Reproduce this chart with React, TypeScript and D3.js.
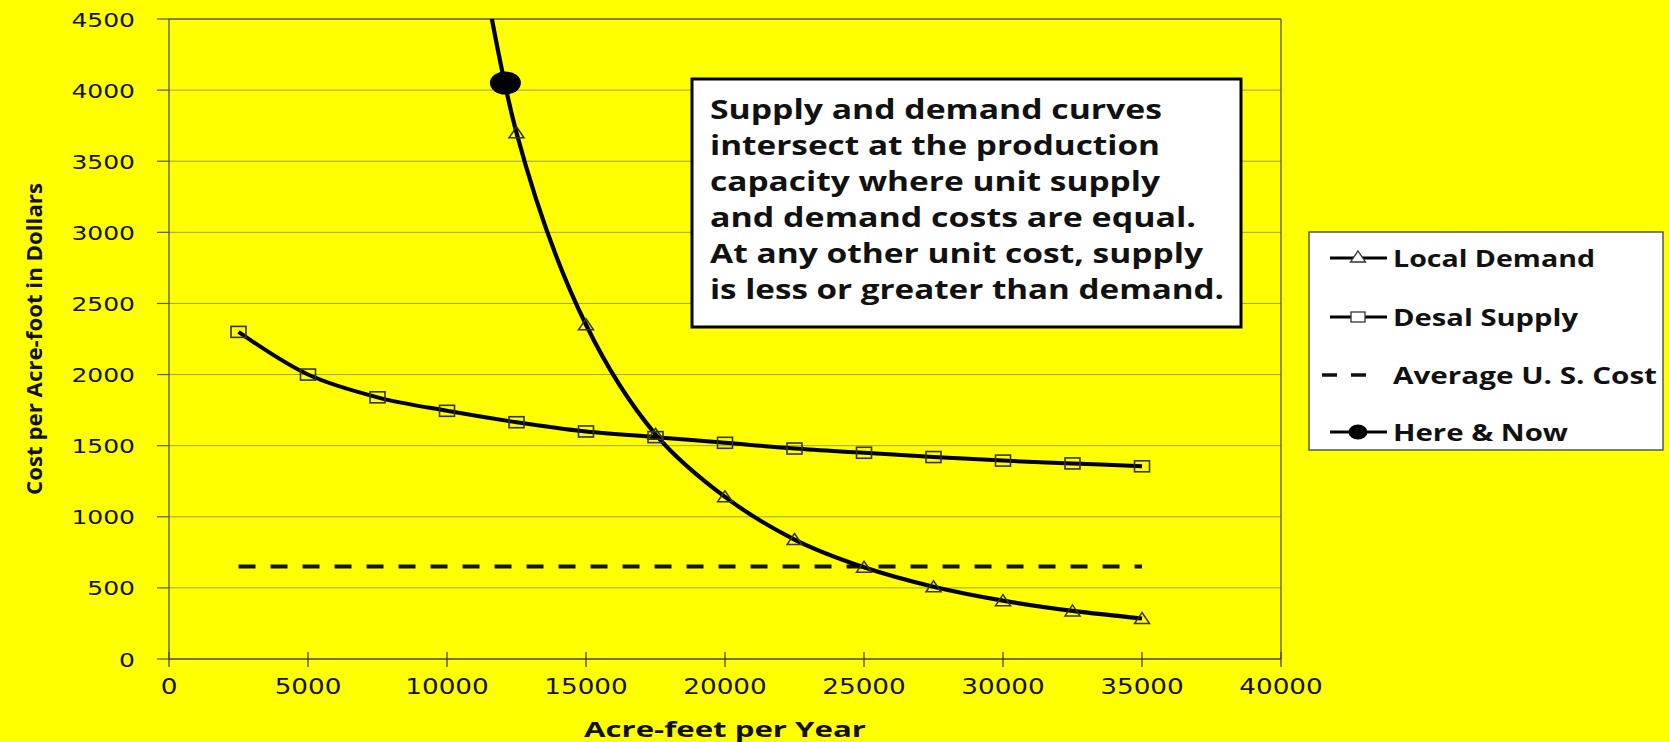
import React from 'react';
import * as d3 from 'd3';

// axis ticks
const xTicks = [0, 5000, 10000, 15000, 20000, 25000, 30000, 35000, 40000];
const yTicks = [0, 500, 1000, 1500, 2000, 2500, 3000, 3500, 4000, 4500];

// Local Demand (points above 4500 run off the top of the plot)
const demandX = [10000, 12500, 15000, 17500, 20000, 22500, 25000, 27500, 30000, 32500, 35000];
const demandY = [6400, 3700, 2350, 1580, 1140, 840, 645, 508, 410, 338, 285];

// Desal Supply
const supplyX = [2500, 5000, 7500, 10000, 12500, 15000, 17500, 20000, 22500, 25000, 27500, 30000, 32500, 35000];
const supplyY = [2300, 2000, 1840, 1745, 1665, 1600, 1560, 1520, 1480, 1450, 1420, 1395, 1375, 1355];

// Average U. S. Cost
const avgX = [2500, 35000];
const avgY = [650, 650];

// Here & Now
const hereX = [12100];
const hereY = [4050];

const legendLabels = ['Local Demand', 'Desal Supply', 'Average U. S. Cost', 'Here & Now'];
const legendWidths = [202, 185, 264, 175];

const noteLines = [
  'Supply and demand curves',
  'intersect at the production',
  'capacity where unit supply',
  'and demand costs are equal.',
  'At any other unit cost, supply',
  'is less or greater than demand.',
];
const noteWidths = [452, 450, 450, 486, 493, 514];

const W = 1669;
const H = 742;
const plot = { left: 169, right: 1281, top: 19, bottom: 659 };

const x = d3.scaleLinear().domain([0, 40000]).range([plot.left, plot.right]);
const y = d3.scaleLinear().domain([0, 4500]).range([plot.bottom, plot.top]);

const line = d3
  .line<[number, number]>()
  .x(d => x(d[0]))
  .y(d => y(d[1]))
  .curve(d3.curveCatmullRom.alpha(0.5));

const zip = (a: number[], b: number[]) => a.map((v, i) => [v, b[i]] as [number, number]);

const tri = (cx: number, cy: number) =>
  `M${cx},${cy - 6} L${cx + 7.5},${cy + 5} L${cx - 7.5},${cy + 5} Z`;

const numFont = "'DejaVu Sans', Verdana, sans-serif";
const boldFont = "'Open Sans', 'Noto Sans', sans-serif";

export default function App() {
  const demand = zip(demandX, demandY);
  const supply = zip(supplyX, supplyY);
  const avg = zip(avgX, avgY);

  const legendRows = [258, 317, 375, 432];

  return (
    <div style={{ position: 'fixed', left: 0, top: 0, width: W, height: H, background: '#ffff00' }}>
      <svg width={W} height={H} style={{ display: 'block' }}>
        <rect x={0} y={0} width={W} height={H} fill="#ffff00" />
        <defs>
          <clipPath id="plotClip">
            <rect x={plot.left} y={plot.top} width={plot.right - plot.left} height={plot.bottom - plot.top} />
          </clipPath>
        </defs>

        {/* gridlines */}
        {yTicks.filter(t => t > 0).map(t => (
          <line key={'g' + t} x1={plot.left} x2={plot.right} y1={y(t)} y2={y(t)} stroke="#a0a050" strokeWidth={1} />
        ))}

        {/* plot border top / right */}
        <line x1={plot.left} x2={plot.right} y1={plot.top} y2={plot.top} stroke="#666" strokeWidth={1.3} />
        <line x1={plot.right} x2={plot.right} y1={plot.top} y2={plot.bottom} stroke="#555" strokeWidth={1.3} />

        {/* y axis */}
        <line x1={plot.left} x2={plot.left} y1={plot.top} y2={plot.bottom} stroke="#555" strokeWidth={1.3} />
        {yTicks.map(t => (
          <g key={'y' + t}>
            <line x1={plot.left - 12} x2={plot.left} y1={y(t)} y2={y(t)} stroke="#555" strokeWidth={1.2} />
            <g transform={`translate(135,${y(t) + 7.5}) scale(1.25,1)`}>
              <text textAnchor="end" fontFamily={numFont} fontSize={20} fill="#111">
                {t}
              </text>
            </g>
          </g>
        ))}

        {/* x axis */}
        <line x1={plot.left} x2={plot.right} y1={plot.bottom} y2={plot.bottom} stroke="#444" strokeWidth={1.3} />
        {xTicks.map(t => (
          <g key={'x' + t}>
            <line x1={x(t)} x2={x(t)} y1={plot.bottom - 7} y2={plot.bottom + 8} stroke="#444" strokeWidth={1.3} />
            <g transform={`translate(${x(t)},694) scale(1.28,1)`}>
              <text textAnchor="middle" fontFamily={numFont} fontSize={20.5} fill="#111">
                {t}
              </text>
            </g>
          </g>
        ))}

        {/* axis titles */}
        <text
          x={(plot.left + plot.right) / 2}
          y={737}
          textAnchor="middle"
          fontFamily={boldFont}
          fontWeight={700}
          fontSize={21}
          textLength={282}
          lengthAdjust="spacingAndGlyphs"
          fill="#111"
        >
          Acre-feet per Year
        </text>
        <text
          transform={`translate(42,${(plot.top + plot.bottom) / 2}) rotate(-90)`}
          textAnchor="middle"
          fontFamily={boldFont}
          fontWeight={700}
          fontSize={21}
          textLength={312}
          lengthAdjust="spacingAndGlyphs"
          fill="#111"
        >
          Cost per Acre-foot in Dollars
        </text>

        {/* series */}
        <g clipPath="url(#plotClip)">
          <path d={line(avg) || ''} fill="none" stroke="#111" strokeWidth={4} strokeDasharray="17 15" />
          <path d={line(supply) || ''} fill="none" stroke="#000" strokeWidth={4} />
          <path d={line(demand) || ''} fill="none" stroke="#000" strokeWidth={4.2} />
          {supply.map((d, i) => (
            <rect key={'s' + i} x={x(d[0]) - 7.5} y={y(d[1]) - 5.5} width={15} height={11} fill="none" stroke="#333" strokeWidth={1.6} />
          ))}
          {demand.map((d, i) => (
            <path key={'d' + i} d={tri(x(d[0]), y(d[1]))} fill="none" stroke="#333" strokeWidth={1.5} />
          ))}
          {hereX.map((v, i) => (
            <ellipse key={'h' + i} cx={x(v)} cy={y(hereY[i])} rx={15.5} ry={11.5} fill="#000" />
          ))}
        </g>

        {/* annotation box */}
        <rect x={692} y={79} width={549} height={248} fill="#fff" stroke="#000" strokeWidth={3} />
        {noteLines.map((s, i) => (
          <text
            key={'n' + i}
            x={710}
            y={119 + i * 36}
            fontFamily={boldFont}
            fontWeight={700}
            fontSize={26.5}
            textLength={noteWidths[i]}
            lengthAdjust="spacingAndGlyphs"
            fill="#111"
          >
            {s}
          </text>
        ))}

        {/* legend */}
        <rect x={1309} y={232} width={354} height={218} fill="#fff" stroke="#555" strokeWidth={1.5} />
        {legendLabels.map((s, i) => {
          const cy = legendRows[i];
          return (
            <g key={'l' + i}>
              {i === 2 ? (
                <line x1={1322} x2={1366} y1={cy} y2={cy} stroke="#111" strokeWidth={3.5} strokeDasharray="15 14" />
              ) : (
                <line x1={1330} x2={1387} y1={cy} y2={cy} stroke="#000" strokeWidth={3} />
              )}
              {i === 0 && <path d={tri(1358, cy - 1)} fill="#fff" stroke="#333" strokeWidth={1.3} />}
              {i === 1 && <rect x={1351} y={cy - 5} width={14} height={10} fill="#fff" stroke="#333" strokeWidth={1.3} />}
              {i === 3 && <ellipse cx={1358} cy={cy} rx={9.5} ry={7.5} fill="#000" />}
              <text
                x={1393}
                y={cy + 8.5}
                fontFamily={boldFont}
                fontWeight={700}
                fontSize={23.5}
                textLength={legendWidths[i]}
                lengthAdjust="spacingAndGlyphs"
                fill="#111"
              >
                {s}
              </text>
            </g>
          );
        })}
      </svg>
    </div>
  );
}
